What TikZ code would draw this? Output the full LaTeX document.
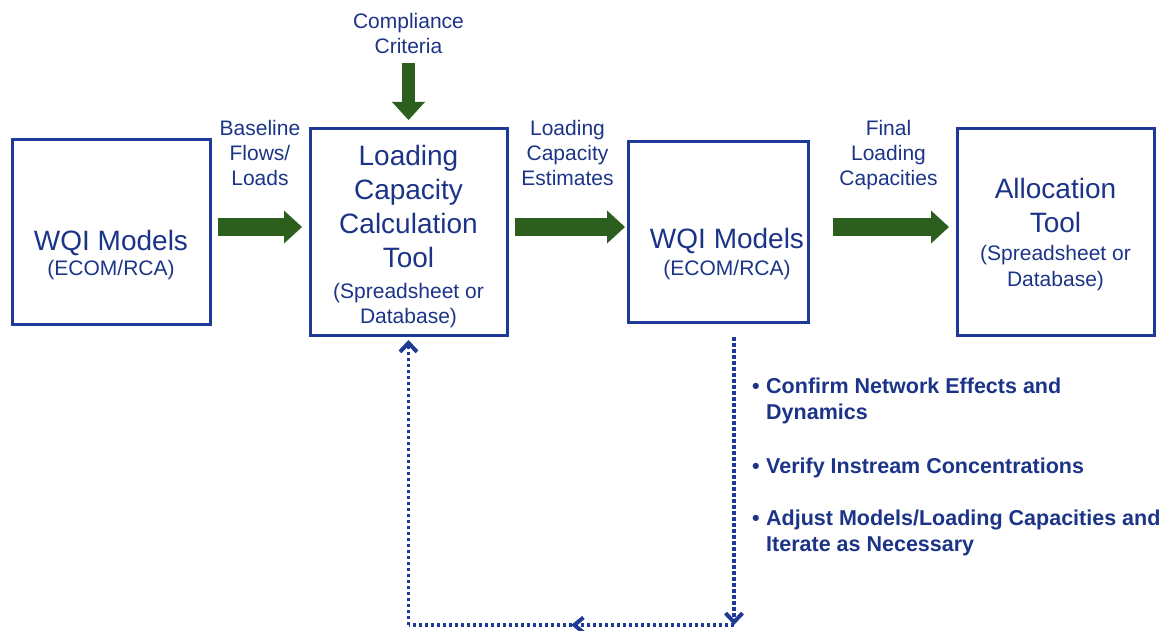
\documentclass[tikz,border=0pt]{standalone}
\usepackage{fontspec}
\setmainfont{Liberation Sans}
\usetikzlibrary{positioning,arrows.meta,decorations.markings}
\definecolor{navy}{RGB}{30,58,150}
\definecolor{inkblue}{RGB}{28,52,135}
\definecolor{leaf}{RGB}{44,94,30}
\tikzset{
  box/.style={draw=navy, line width=3pt, text=inkblue, align=center,
    minimum width=197pt, minimum height=207pt, font=\fontsize{28}{34}\selectfont},
  flow/.style={draw=leaf, line width=17pt,
    -{Triangle[length=18pt,width=33pt,line width=0pt]}},
  note/.style={text=inkblue, align=center, text depth=5pt,
    font=\fontsize{21}{25}\selectfont},
  feedback/.style={draw=navy, line width=3.5pt, dash pattern=on 3.5pt off 2.5pt},
  barb/.style={-{Straight Barb[length=9pt,width=17pt,line width=4pt]}}}
\newcommand\smalltext[1]{{\fontsize{21}{25}\selectfont #1}}
\newcommand\itemdot{\makebox[14pt][l]{\textbullet}}

\begin{document}
\begin{tikzpicture}[x=1pt, y=-1pt]
  \useasboundingbox (0,0) rectangle (1175,631);
  \node[box, minimum width=198pt, minimum height=185pt] (wqiA) at (111,232)
    {\rule{0pt}{66pt}WQI Models\\[-8.5pt]\smalltext{(ECOM/RCA)}};
  \node[box] (lcTool) [right=97pt of wqiA]
    {\rule{0pt}{29pt}Loading\\Capacity\\Calculation\\Tool\\[-3pt]\smalltext{(Spreadsheet or}\\[-9pt]\smalltext{Database)}};
  \node[box, minimum width=180pt, minimum height=180pt] (wqiB) [right=118pt of lcTool]
    {\rule{0pt}{64pt}\hspace*{18pt}WQI Models\\[-6.5pt]\hspace*{18pt}\smalltext{(ECOM/RCA)}};
  \node[box] (allocTool) [right=146pt of wqiB]
    {\rule{0pt}{25pt}Allocation\\Tool\\[-5.5pt]\smalltext{(Spreadsheet or}\\[-8pt]\smalltext{Database)}};
  \node[note] (criteria) [above=65pt of lcTool] {Compliance\\Criteria};

  % main flow
  \draw[flow, shorten <=6.5pt, shorten >=6.5pt] ([yshift=5pt]wqiA.east) --
    node[note, above=25pt] {Baseline\\Flows/\\Loads} ([yshift=5pt]lcTool.west);
  \draw[flow, shorten <=6.5pt, shorten >=1.5pt] ([yshift=5pt]lcTool.east) --
    node[note, above=25pt] {Loading\\Capacity\\Estimates} ([yshift=5pt]wqiB.west);
  \draw[flow, shorten <=23.5pt, shorten >=6.5pt] ([yshift=5pt]wqiB.east) --
    node[note, above=25pt, xshift=6pt] {Final\\Loading\\Capacities} ([yshift=5pt]allocTool.west);
  \draw[flow, line width=13pt, shorten <=1pt, shorten >=7pt] (criteria) -- (lcTool);

  % feedback loop
  \coordinate (dropR) at ([xshift=16pt]wqiB.south);
  \coordinate (loopR) at (dropR |- 0,625);
  \coordinate (loopL) at (lcTool.south |- loopR);
  \draw[feedback, barb, shorten <=13.5pt] (dropR) -- (loopR);
  \draw[feedback, postaction={decorate}, decoration={markings,
    mark=at position 0.5 with {\arrow{Straight Barb[length=9pt,width=15pt,line width=4pt]}}}] (loopR) -- (loopL);
  \draw[feedback, barb, shorten >=3pt] (loopL) -- (lcTool);

  \node[anchor=north west, inner sep=0pt, text=inkblue, align=left,
    font=\bfseries\fontsize{21.5}{26}\selectfont] (checks) at (752,378)
    {\itemdot Confirm Network Effects and\\
     \hspace*{14pt}Dynamics\\[28pt]
     \itemdot Verify Instream Concentrations\\[26pt]
     \itemdot Adjust Models/Loading Capacities and\\
     \hspace*{14pt}Iterate as Necessary};
\end{tikzpicture}
\end{document}
